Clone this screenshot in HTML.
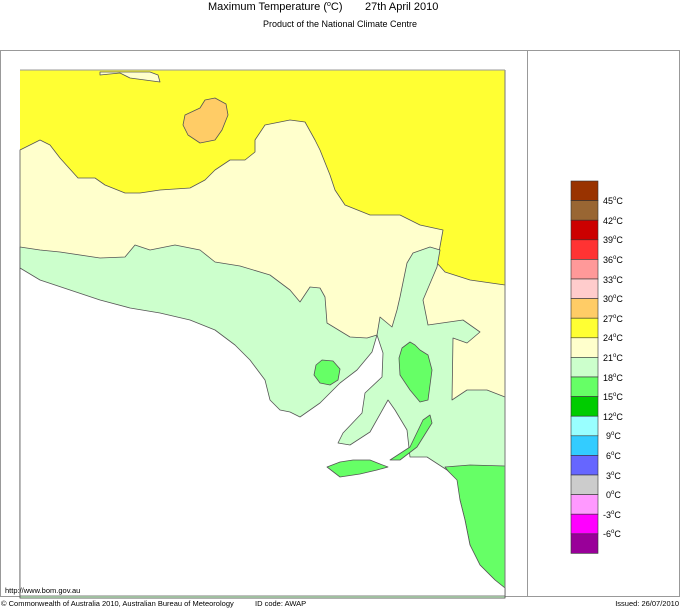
<!DOCTYPE html>
<html><head><meta charset="utf-8"><style>
body{margin:0;background:#fff;}
svg{display:block;font-family:"Liberation Sans",Arial,sans-serif;}
</style></head><body>
<svg width="680" height="608" viewBox="0 0 680 608" xmlns="http://www.w3.org/2000/svg">
<text x="208" y="10" font-size="11">Maximum Temperature (<tspan font-size="7" dy="-4">o</tspan><tspan dy="4">C)</tspan></text>
<text x="365" y="10" font-size="11">27th April 2010</text>
<text x="340" y="27" font-size="9" text-anchor="middle">Product of the National Climate Centre</text>
<rect x="0.5" y="50.5" width="679" height="546" fill="none" stroke="#999"/>
<line x1="527.5" y1="50" x2="527.5" y2="597" stroke="#999"/>
<g stroke="#555" stroke-width="0.8" stroke-linejoin="round">
<rect x="20" y="70" width="485" height="525" fill="#ffff33" stroke="none"/>
<path fill="#ffffcc" d="M20,150 L40,140 L50,145 L60,158 L78,178 L95,178 L105,185 L125,193 L140,193 L160,190 L190,188 L205,180 L215,170 L230,160 L245,160 L255,152 L255,140 L265,125 L275,123 L290,120 L305,122 L315,140 L320,150 L330,175 L335,190 L345,205 L370,215 L400,215 L420,225 L443,230 L437,263 L445,272 L470,280 L505,285 L505,598 L20,598 Z"/>
<path fill="#ccffcc" d="M20,247 L40,250 L60,252 L100,258 L125,257 L135,245 L150,250 L175,245 L200,250 L215,262 L240,266 L270,275 L290,290 L300,302 L310,287 L320,288 L325,297 L327,323 L350,337 L367,338 L377,335 L380,317 L392,327 L397,310 L400,297 L407,263 L413,253 L430,247 L440,250 L437,267 L423,300 L428,325 L463,320 L480,332 L467,343 L453,338 L452,400 L467,390 L487,390 L505,397 L505,598 L20,598 Z"/>
<path fill="#ffcc66" d="M185,115 L200,108 L205,100 L215,98 L226,104 L228,115 L222,130 L215,140 L200,143 L188,135 L183,125 Z"/>
<path fill="#ffffcc" d="M100,75 L120,73 L130,78 L160,82 L158,75 L150,72 L100,72 Z"/>
<path fill="#66ff66" d="M316,365 L322,360 L333,361 L340,369 L338,380 L330,385 L320,383 L314,375 Z"/>
<path fill="#66ff66" d="M402,348 L410,342 L415,345 L420,350 L428,355 L432,370 L428,400 L420,402 L410,390 L400,375 L399,358 Z"/>
<path fill="#66ff66" d="M445,467 L470,465 L505,466 L505,588 L495,580 L480,565 L470,545 L465,520 L460,500 L455,480 Z"/>
<path fill="#fff" d="M20,268 L40,280 L70,290 L100,300 L130,308 L160,313 L190,320 L215,330 L235,345 L250,360 L265,380 L270,400 L280,410 L290,412 L300,417 L320,403 L340,383 L357,370 L372,352 L377,335 L383,353 L382,377 L365,393 L362,413 L343,433 L338,443 L350,445 L370,432 L388,400 L395,410 L407,430 L410,457 L427,457 L447,470 L457,480 L460,500 L465,520 L470,545 L480,565 L495,580 L505,588 L505,596 L20,596 Z"/>
<path fill="#66ff66" d="M430,415 L432,423 L417,447 L400,460 L390,460 L410,447 L423,420 Z"/>
<path fill="#66ff66" d="M327,467 L340,462 L353,460 L370,460 L380,464 L388,467 L377,470 L360,474 L340,477 Z"/>
</g>
<line x1="505" y1="70" x2="505" y2="588" stroke="#777"/>
<line x1="20" y1="70" x2="505" y2="70" stroke="#999"/>
<text x="5" y="593" font-size="7.5">http://www.bom.gov.au</text>
<text x="1" y="606" font-size="7.5">© Commonwealth of Australia 2010, Australian Bureau of Meteorology</text>
<text x="255" y="606" font-size="7.5">ID code: AWAP</text>
<text x="679" y="606" font-size="7.5" text-anchor="end">Issued: 26/07/2010</text>
<g stroke="#333" stroke-width="0.6">
<rect x="571" y="181" width="27" height="19.6" fill="#993300"/>
<rect x="571" y="200.6" width="27" height="19.6" fill="#996633"/>
<rect x="571" y="220.2" width="27" height="19.6" fill="#cc0000"/>
<rect x="571" y="239.8" width="27" height="19.6" fill="#ff3333"/>
<rect x="571" y="259.4" width="27" height="19.6" fill="#ff9999"/>
<rect x="571" y="279" width="27" height="19.6" fill="#ffcccc"/>
<rect x="571" y="298.6" width="27" height="19.6" fill="#ffcc66"/>
<rect x="571" y="318.2" width="27" height="19.6" fill="#ffff33"/>
<rect x="571" y="337.8" width="27" height="19.6" fill="#ffffcc"/>
<rect x="571" y="357.4" width="27" height="19.6" fill="#ccffcc"/>
<rect x="571" y="377" width="27" height="19.6" fill="#66ff66"/>
<rect x="571" y="396.6" width="27" height="19.6" fill="#00cc00"/>
<rect x="571" y="416.2" width="27" height="19.6" fill="#99ffff"/>
<rect x="571" y="435.8" width="27" height="19.6" fill="#33ccff"/>
<rect x="571" y="455.4" width="27" height="19.6" fill="#6666ff"/>
<rect x="571" y="475" width="27" height="19.6" fill="#cccccc"/>
<rect x="571" y="494.6" width="27" height="19.6" fill="#ff99ff"/>
<rect x="571" y="514.2" width="27" height="19.6" fill="#ff00ff"/>
<rect x="571" y="533.8" width="27" height="19.6" fill="#990099"/>
</g>
<g font-size="9">
<text x="603" y="204">45<tspan font-size="6" dy="-4">o</tspan><tspan dy="4">C</tspan></text>
<text x="603" y="224">42<tspan font-size="6" dy="-4">o</tspan><tspan dy="4">C</tspan></text>
<text x="603" y="243">39<tspan font-size="6" dy="-4">o</tspan><tspan dy="4">C</tspan></text>
<text x="603" y="263">36<tspan font-size="6" dy="-4">o</tspan><tspan dy="4">C</tspan></text>
<text x="603" y="283">33<tspan font-size="6" dy="-4">o</tspan><tspan dy="4">C</tspan></text>
<text x="603" y="302">30<tspan font-size="6" dy="-4">o</tspan><tspan dy="4">C</tspan></text>
<text x="603" y="322">27<tspan font-size="6" dy="-4">o</tspan><tspan dy="4">C</tspan></text>
<text x="603" y="341">24<tspan font-size="6" dy="-4">o</tspan><tspan dy="4">C</tspan></text>
<text x="603" y="361">21<tspan font-size="6" dy="-4">o</tspan><tspan dy="4">C</tspan></text>
<text x="603" y="381">18<tspan font-size="6" dy="-4">o</tspan><tspan dy="4">C</tspan></text>
<text x="603" y="400">15<tspan font-size="6" dy="-4">o</tspan><tspan dy="4">C</tspan></text>
<text x="603" y="420">12<tspan font-size="6" dy="-4">o</tspan><tspan dy="4">C</tspan></text>
<text x="606" y="439">9<tspan font-size="6" dy="-4">o</tspan><tspan dy="4">C</tspan></text>
<text x="606" y="459">6<tspan font-size="6" dy="-4">o</tspan><tspan dy="4">C</tspan></text>
<text x="606" y="479">3<tspan font-size="6" dy="-4">o</tspan><tspan dy="4">C</tspan></text>
<text x="606" y="498">0<tspan font-size="6" dy="-4">o</tspan><tspan dy="4">C</tspan></text>
<text x="603" y="518">-3<tspan font-size="6" dy="-4">o</tspan><tspan dy="4">C</tspan></text>
<text x="603" y="537">-6<tspan font-size="6" dy="-4">o</tspan><tspan dy="4">C</tspan></text>
</g>
</svg>
</body></html>
